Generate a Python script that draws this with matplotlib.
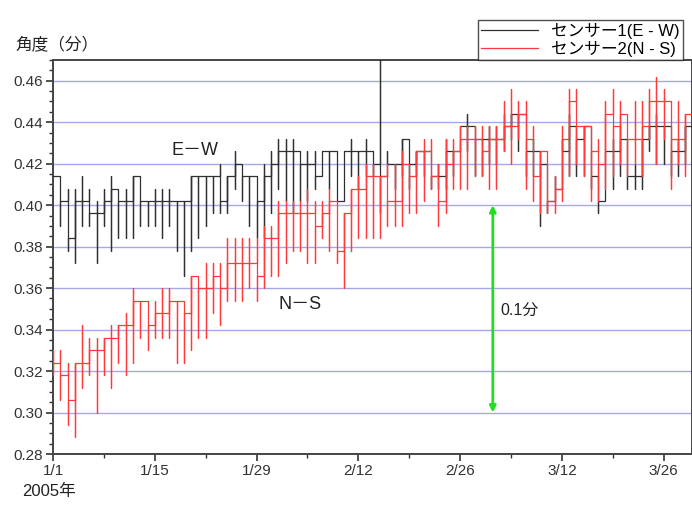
"""
Tilt sensor angle plot, Jan-Mar 2005 (E-W and N-S sensors)
"""

import numpy as np
import pandas as pd
import matplotlib
matplotlib.use('Agg')
import matplotlib.pyplot as plt
import matplotlib.dates as mdates

plt.rcParams['font.family'] = ['Liberation Sans', 'Noto Sans CJK JP', 'DejaVu Sans']

days = pd.date_range('2005-01-01', periods=89, freq='D')

# Sensor 1 (E-W): daily level, and the low/high of that day's swing
ew_level = [0.414, 0.402, 0.384, 0.402, 0.402, 0.396, 0.396, 0.402, 0.408, 0.402,
            0.402, 0.414, 0.402, 0.402, 0.402, 0.402, 0.402, 0.402, 0.402, 0.414,
            0.414, 0.414, 0.414, 0.402, 0.414, 0.420, 0.414, 0.414, 0.402, 0.414,
            0.420, 0.426, 0.426, 0.426, 0.420, 0.420, 0.414, 0.426, 0.426, 0.402,
            0.426, 0.426, 0.426, 0.426, 0.420, 0.414, 0.420, 0.420, 0.432, 0.420,
            0.426, 0.426, 0.414, 0.414, 0.426, 0.426, 0.438, 0.438, 0.432, 0.432,
            0.432, 0.432, 0.438, 0.444, 0.444, 0.426, 0.426, 0.420, 0.402, 0.408,
            0.426, 0.438, 0.432, 0.438, 0.414, 0.402, 0.426, 0.426, 0.432, 0.414,
            0.414, 0.432, 0.438, 0.438, 0.438, 0.426, 0.426, 0.438, 0.438]
ew_low = [0.414, 0.390, 0.378, 0.372, 0.390, 0.390, 0.372, 0.390, 0.378, 0.384,
          0.384, 0.384, 0.390, 0.390, 0.390, 0.384, 0.390, 0.378, 0.366, 0.378,
          0.384, 0.390, 0.396, 0.396, 0.396, 0.408, 0.402, 0.390, 0.384, 0.384,
          0.396, 0.408, 0.402, 0.396, 0.402, 0.402, 0.408, 0.414, 0.408, 0.402,
          0.402, 0.414, 0.408, 0.414, 0.414, 0.396, 0.414, 0.408, 0.414, 0.408,
          0.414, 0.414, 0.408, 0.408, 0.408, 0.414, 0.426, 0.426, 0.414, 0.414,
          0.420, 0.420, 0.426, 0.432, 0.426, 0.414, 0.414, 0.390, 0.396, 0.402,
          0.408, 0.414, 0.414, 0.414, 0.408, 0.396, 0.402, 0.408, 0.414, 0.408,
          0.408, 0.408, 0.426, 0.420, 0.420, 0.414, 0.414, 0.420, 0.426]
ew_high = [0.414, 0.414, 0.408, 0.408, 0.414, 0.408, 0.402, 0.408, 0.414, 0.408,
           0.408, 0.414, 0.414, 0.402, 0.408, 0.408, 0.408, 0.402, 0.402, 0.414,
           0.414, 0.414, 0.414, 0.420, 0.414, 0.426, 0.420, 0.414, 0.414, 0.420,
           0.426, 0.432, 0.432, 0.432, 0.426, 0.426, 0.426, 0.426, 0.426, 0.426,
           0.426, 0.432, 0.426, 0.432, 0.426, 0.480, 0.426, 0.420, 0.432, 0.426,
           0.426, 0.426, 0.426, 0.420, 0.432, 0.426, 0.438, 0.444, 0.438, 0.432,
           0.438, 0.438, 0.444, 0.444, 0.444, 0.432, 0.432, 0.426, 0.420, 0.414,
           0.432, 0.444, 0.438, 0.438, 0.426, 0.414, 0.426, 0.432, 0.438, 0.420,
           0.420, 0.432, 0.438, 0.444, 0.438, 0.432, 0.432, 0.438, 0.444]

# Sensor 2 (N-S)
ns_level = [0.324, 0.318, 0.306, 0.324, 0.324, 0.330, 0.330, 0.336, 0.336, 0.342,
            0.342, 0.354, 0.354, 0.342, 0.348, 0.348, 0.354, 0.354, 0.348, 0.366,
            0.360, 0.360, 0.366, 0.360, 0.372, 0.372, 0.372, 0.372, 0.366, 0.384,
            0.384, 0.396, 0.396, 0.396, 0.396, 0.396, 0.390, 0.396, 0.402, 0.378,
            0.396, 0.408, 0.408, 0.414, 0.414, 0.414, 0.402, 0.402, 0.420, 0.414,
            0.426, 0.426, 0.414, 0.402, 0.420, 0.426, 0.432, 0.432, 0.432, 0.426,
            0.432, 0.432, 0.438, 0.438, 0.444, 0.432, 0.414, 0.426, 0.402, 0.408,
            0.432, 0.450, 0.438, 0.438, 0.426, 0.420, 0.444, 0.438, 0.444, 0.432,
            0.432, 0.438, 0.450, 0.450, 0.450, 0.432, 0.432, 0.444, 0.444]
ns_low = [0.318, 0.306, 0.294, 0.288, 0.312, 0.318, 0.300, 0.318, 0.312, 0.324,
          0.318, 0.324, 0.336, 0.330, 0.336, 0.336, 0.336, 0.324, 0.324, 0.330,
          0.336, 0.336, 0.348, 0.342, 0.354, 0.354, 0.354, 0.360, 0.354, 0.360,
          0.366, 0.366, 0.372, 0.378, 0.378, 0.372, 0.372, 0.384, 0.378, 0.372,
          0.360, 0.378, 0.384, 0.384, 0.384, 0.384, 0.390, 0.390, 0.390, 0.396,
          0.396, 0.402, 0.408, 0.390, 0.396, 0.408, 0.408, 0.408, 0.414, 0.414,
          0.408, 0.408, 0.426, 0.420, 0.432, 0.408, 0.402, 0.396, 0.396, 0.396,
          0.402, 0.414, 0.420, 0.414, 0.402, 0.402, 0.408, 0.414, 0.420, 0.414,
          0.420, 0.414, 0.432, 0.420, 0.432, 0.408, 0.420, 0.414, 0.426]
ns_high = [0.330, 0.330, 0.324, 0.324, 0.342, 0.336, 0.336, 0.336, 0.342, 0.342,
           0.348, 0.360, 0.354, 0.348, 0.354, 0.360, 0.360, 0.354, 0.354, 0.366,
           0.366, 0.372, 0.372, 0.372, 0.384, 0.384, 0.384, 0.384, 0.384, 0.390,
           0.390, 0.402, 0.402, 0.402, 0.402, 0.408, 0.402, 0.402, 0.408, 0.402,
           0.396, 0.408, 0.414, 0.420, 0.420, 0.414, 0.420, 0.420, 0.426, 0.420,
           0.426, 0.432, 0.432, 0.420, 0.432, 0.432, 0.438, 0.438, 0.438, 0.438,
           0.438, 0.438, 0.450, 0.456, 0.450, 0.450, 0.438, 0.426, 0.426, 0.414,
           0.438, 0.456, 0.456, 0.438, 0.438, 0.432, 0.450, 0.456, 0.450, 0.444,
           0.450, 0.450, 0.456, 0.462, 0.456, 0.444, 0.450, 0.444, 0.456]

ew_label = 'センサー1(E - W)'
ns_label = 'センサー2(N - S)'


def step_trace(dates, level, low, high):
    # one swing (high -> low) at the start of each day, then hold the level
    t = mdates.date2num(dates)
    xs, ys = [t[0]], [level[0]]
    for i in range(len(t)):
        xs += [t[i], t[i], t[i], t[i] + 1]
        ys += [high[i], low[i], level[i], level[i]]
    return xs, ys


fig = plt.figure(figsize=(6.92, 5.07), dpi=100)
ax = fig.add_axes([0.0766, 0.1045, 1 - 0.0766, 0.7772])

ex, ey = step_trace(days, ew_level, ew_low, ew_high)
nx, ny = step_trace(days, ns_level, ns_low, ns_high)
ax.plot(ex, ey, color='#303030', lw=0.9, label=ew_label, zorder=3)
ax.plot(nx, ny, color='#ff3a3a', lw=0.9, label=ns_label, zorder=4)

t0 = mdates.date2num(days[0])
ax.set_xlim(t0, t0 + 87.9)
ax.set_ylim(0.28, 0.47)

major = pd.date_range('2005-01-01', periods=7, freq='14D')
minor = pd.date_range('2005-01-01', periods=13, freq='7D')
ax.set_xticks(mdates.date2num(major))
ax.set_xticklabels([f'{d.month}/{d.day}' for d in major])
ax.set_xticks(mdates.date2num(minor), minor=True)
ax.set_yticks(np.arange(0.28, 0.4601, 0.02))
ax.set_yticklabels([f'{v:.2f}' for v in np.arange(0.28, 0.4601, 0.02)])
ax.set_yticks(np.arange(0.28, 0.4701, 0.005), minor=True)
ax.tick_params(which='major', direction='out', length=5, width=1.2,
               labelsize=11, colors='#333333')
ax.tick_params(which='minor', direction='out', length=3, width=1.0, colors='#333333')
ax.tick_params(axis='x', pad=2)
ax.tick_params(axis='y', pad=2)

for v in np.arange(0.30, 0.4601, 0.02):
    ax.axhline(v, color='#a6a6ee', lw=1.0, zorder=1)

for s in ax.spines.values():
    s.set_color('#444444')
    s.set_linewidth(1.4)

# 0.1 minute scale arrow
arrow_day = t0 + 60.5
ax.annotate('', xy=(arrow_day, 0.300), xytext=(arrow_day, 0.400),
            arrowprops=dict(arrowstyle='<|-|>', color='#22dd22', lw=2,
                            mutation_scale=9, shrinkA=0, shrinkB=0), zorder=5)
ax.text(t0 + 61.5, 0.349, '0.1分', fontsize=11.5, va='center', ha='left', color='#222222')
ax.text(t0 + 16.3, 0.4265, 'E－W', fontsize=13, va='center', ha='left', color='#222222')
ax.text(t0 + 31.0, 0.352, 'N－S', fontsize=13, va='center', ha='left', color='#222222')

fig.text(15 / 692, 1 - 45 / 507, '角度（分）', fontsize=12, va='center', ha='left', color='#222222')
fig.text(22 / 692, 1 - 491 / 507, '2005年', fontsize=12, va='center', ha='left', color='#222222')

leg = fig.legend(loc='lower right', bbox_to_anchor=(683 / 692, 1 - 60 / 507),
                 frameon=True, fancybox=False, borderaxespad=0, fontsize=12,
                 handlelength=3.4, borderpad=0.2, labelspacing=0.1, handletextpad=0.8)
leg.get_frame().set_edgecolor('#222222')
leg.get_frame().set_linewidth(1.0)

fig.savefig('out.png', dpi=100)
